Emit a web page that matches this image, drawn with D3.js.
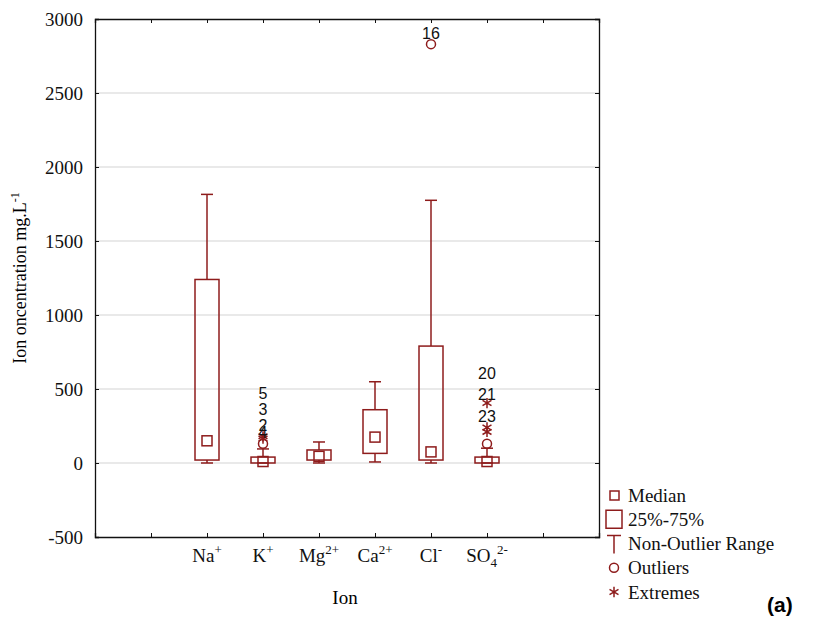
<!DOCTYPE html>
<html>
<head>
<meta charset="utf-8">
<script src="https://cdn.jsdelivr.net/npm/d3@7"></script>
<style>
  body { margin: 0; background: #fff; }
  svg { display: block; }
</style>
</head>
<body>
<svg id="chart" width="828" height="618"></svg>
<script>
// ion categories (base, sub, sup)
const ions = [
  {base: "Na", sub: "", sup: "+"},
  {base: "K", sub: "", sup: "+"},
  {base: "Mg", sub: "", sup: "2+"},
  {base: "Ca", sub: "", sup: "2+"},
  {base: "Cl", sub: "", sup: "-"},
  {base: "SO", sub: "4", sup: "2-"}
];

// box statistics (mg/L)
const medians  = [150, 10, 45, 175, 75, 10];
const q25      = [20, 0, 20, 65, 20, 0];
const q75      = [1240, 40, 88, 360, 790, 40];
const whiskLo  = [0, 0, 0, 7, 0, 0];
const whiskHi  = [1815, 95, 142, 549, 1775, 100];

// outliers / extremes: [ion index, value]
const outliers = [[1, 130], [4, 2830], [5, 130]];
const extremes = [[1, 180], [1, 165], [5, 405], [5, 240], [5, 210]];

// case labels: [ion index, value at label, text]
const caseLabels = [
  [1, 467, "5"], [1, 359, "3"], [1, 255, "2"], [1, 205, "4"],
  [4, 2900, "16"],
  [5, 603, "20"], [5, 461, "21"], [5, 312, "23"]
];

const yTicks = [-500, 0, 500, 1000, 1500, 2000, 2500, 3000];
const legendItems = ["Median", "25%-75%", "Non-Outlier Range", "Outliers", "Extremes"];

const col = "#8e1c1c";
const serif = "'Liberation Serif', 'Times New Roman', serif";
const sans = "'Liberation Sans', Arial, sans-serif";

const plot = {left: 95, right: 599, top: 19, bottom: 537};
const svg = d3.select("#chart");

const x = d3.scaleLinear().domain([0, 9]).range([plot.left, plot.right]);
const y = d3.scaleLinear().domain([-500, 3000]).range([plot.bottom, plot.top]);
const xPos = i => x(i + 2);

// grid lines
svg.append("g")
  .selectAll("line")
  .data(yTicks.filter(t => t > -500 && t < 3000))
  .join("line")
  .attr("x1", plot.left).attr("x2", plot.right)
  .attr("y1", d => y(d)).attr("y2", d => y(d))
  .attr("stroke", "#e2e2e2").attr("stroke-width", 1.5);

// axes, ticks inward on all four sides
const axisY = d3.axisLeft(y).tickValues(yTicks).tickSize(-4).tickPadding(12).tickFormat(d => String(d));
const gy = svg.append("g").attr("transform", "translate(" + plot.left + ",0)").call(axisY);
gy.selectAll("text").attr("font-family", serif).attr("font-size", "19px").attr("fill", "#111");

svg.append("g").attr("transform", "translate(" + plot.right + ",0)")
  .call(d3.axisRight(y).tickValues(yTicks).tickSize(-4).tickFormat(""));

const xTickVals = d3.range(1, 9);
svg.append("g").attr("transform", "translate(0," + plot.bottom + ")")
  .call(d3.axisBottom(x).tickValues(xTickVals).tickSize(-4).tickFormat(""));
svg.append("g").attr("transform", "translate(0," + plot.top + ")")
  .call(d3.axisTop(x).tickValues(xTickVals).tickSize(-4).tickFormat(""));

svg.selectAll(".domain").attr("stroke", "#111").attr("stroke-width", 1.3);
svg.selectAll(".tick line").attr("stroke", "#111");

// category labels with super/subscripts
const catLbl = svg.append("g")
  .selectAll("text")
  .data(ions)
  .join("text")
  .attr("x", (d, i) => xPos(i))
  .attr("y", 562)
  .attr("text-anchor", "middle")
  .attr("font-family", serif)
  .attr("font-size", "19px")
  .attr("fill", "#111");
catLbl.append("tspan").text(d => d.base);
catLbl.filter(d => d.sub).append("tspan")
  .attr("font-size", "13px").attr("dy", 5).text(d => d.sub);
catLbl.append("tspan")
  .attr("font-size", "13px")
  .attr("dy", d => d.sub ? -13 : -8)
  .text(d => d.sup);

// axis titles
svg.append("text")
  .attr("x", 345).attr("y", 604)
  .attr("text-anchor", "middle")
  .attr("font-family", serif).attr("font-size", "19px")
  .text("Ion");

const yTitle = svg.append("text")
  .attr("transform", "translate(26," + (plot.top + plot.bottom) / 2 + ") rotate(-90)")
  .attr("text-anchor", "middle")
  .attr("font-family", serif).attr("font-size", "18px");
yTitle.append("tspan").text("Ion oncentration mg.L");
yTitle.append("tspan").attr("font-size", "12px").attr("dy", -7).text("-1");

// boxes
const bw = 24, capW = 12, medS = 10;
const boxes = svg.append("g").attr("fill", "none").attr("stroke", col).attr("stroke-width", 1.5);
ions.forEach((d, i) => {
  const cx = xPos(i);
  boxes.append("line").attr("x1", cx).attr("x2", cx).attr("y1", y(q75[i])).attr("y2", y(whiskHi[i]));
  boxes.append("line").attr("x1", cx).attr("x2", cx).attr("y1", y(q25[i])).attr("y2", y(whiskLo[i]));
  boxes.append("line").attr("x1", cx - capW / 2).attr("x2", cx + capW / 2).attr("y1", y(whiskHi[i])).attr("y2", y(whiskHi[i]));
  boxes.append("line").attr("x1", cx - capW / 2).attr("x2", cx + capW / 2).attr("y1", y(whiskLo[i])).attr("y2", y(whiskLo[i]));
  boxes.append("rect").attr("x", cx - bw / 2).attr("width", bw)
    .attr("y", y(q75[i])).attr("height", y(q25[i]) - y(q75[i]));
  boxes.append("rect").attr("x", cx - medS / 2).attr("y", y(medians[i]) - medS / 2)
    .attr("width", medS).attr("height", medS);
});

// outliers
svg.append("g").selectAll("circle")
  .data(outliers)
  .join("circle")
  .attr("cx", d => xPos(d[0])).attr("cy", d => y(d[1]))
  .attr("r", 4.5).attr("fill", "none").attr("stroke", col).attr("stroke-width", 1.5);

// extremes
const star = d3.symbol().type(d3.symbolAsterisk).size(75);
svg.append("g").selectAll("path")
  .data(extremes)
  .join("path")
  .attr("transform", d => "translate(" + xPos(d[0]) + "," + y(d[1]) + ")")
  .attr("d", star).attr("fill", "none").attr("stroke", col).attr("stroke-width", 1.5);

// case labels
svg.append("g").selectAll("text")
  .data(caseLabels)
  .join("text")
  .attr("x", d => xPos(d[0])).attr("y", d => y(d[1]))
  .attr("dy", "0.35em")
  .attr("text-anchor", "middle")
  .attr("font-family", sans).attr("font-size", "16px").attr("fill", "#111")
  .text(d => d[2]);

// legend
const lg = svg.append("g").attr("transform", "translate(614,0)");
const rowY = d3.scalePoint().domain(legendItems).range([495, 592]);
lg.selectAll("text")
  .data(legendItems)
  .join("text")
  .attr("x", 14).attr("y", d => rowY(d))
  .attr("dy", "0.35em")
  .attr("font-family", serif).attr("font-size", "19px").attr("fill", "#111")
  .text(d => d);
const ls = lg.append("g").attr("fill", "none").attr("stroke", col).attr("stroke-width", 1.5);
ls.append("rect").attr("x", -4).attr("y", rowY("Median") - 4).attr("width", 9).attr("height", 9);
ls.append("rect").attr("x", -8).attr("y", rowY("25%-75%") - 9).attr("width", 16).attr("height", 18);
ls.append("line").attr("x1", -7).attr("x2", 7).attr("y1", rowY("Non-Outlier Range") - 8).attr("y2", rowY("Non-Outlier Range") - 8);
ls.append("line").attr("x1", 0).attr("x2", 0).attr("y1", rowY("Non-Outlier Range") - 8).attr("y2", rowY("Non-Outlier Range") + 10);
ls.append("circle").attr("cx", 0).attr("cy", rowY("Outliers")).attr("r", 4.5);
ls.append("path").attr("transform", "translate(0," + rowY("Extremes") + ")").attr("d", star);

// panel tag
svg.append("text")
  .attr("x", 767).attr("y", 612)
  .attr("font-family", sans).attr("font-size", "21px").attr("font-weight", "bold")
  .text("(a)");
</script>
</body>
</html>
